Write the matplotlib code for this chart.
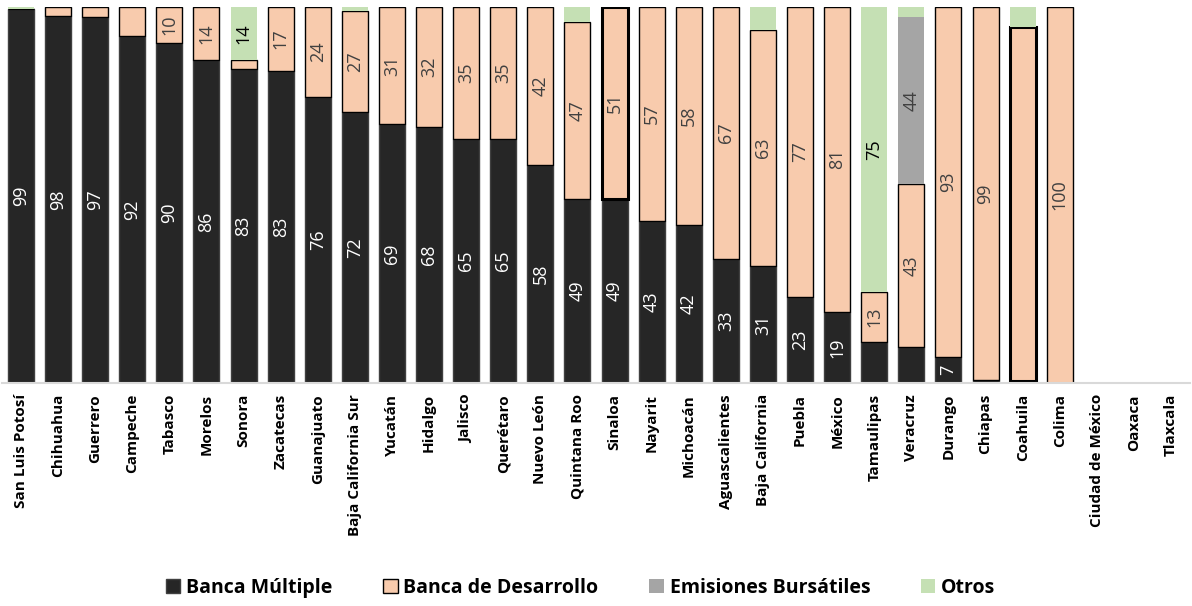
import numpy as np
import matplotlib.pyplot as plt

states = ["San Luis Potosí", "Chihuahua", "Guerrero", "Campeche", "Tabasco", "Morelos",
          "Sonora", "Zacatecas", "Guanajuato", "Baja California Sur", "Yucatán", "Hidalgo",
          "Jalisco", "Querétaro", "Nuevo León", "Quintana Roo", "Sinaloa", "Nayarit",
          "Michoacán", "Aguascalientes", "Baja California", "Puebla", "México", "Tamaulipas",
          "Veracruz", "Durango", "Chiapas", "Coahuila", "Colima", "Ciudad de México",
          "Oaxaca", "Tlaxcala"]

banca_multiple = [99.4, 97.6, 97.4, 92.3, 90.4, 85.9, 83.5, 83, 76, 72, 69, 68,
                  65, 65, 58, 49, 49, 43, 42, 33, 31, 23, 19, 10.9,
                  9.5, 7, 0.8, 0.4, 0, 0, 0, 0]
banca_desarrollo = [0, 2.4, 2.6, 7.7, 9.6, 14.1, 2.4, 17, 24, 27, 31, 32,
                    35, 35, 42, 47, 51, 57, 58, 67, 63, 77, 81, 13.3,
                    43.3, 93, 99.2, 94.3, 100, 0, 0, 0]
emisiones = [0] * 24 + [44.5] + [0] * 7
otros = [0.6, 0, 0, 0, 0, 0, 14.1, 0, 0, 1, 0, 0,
         0, 0, 0, 4, 0, 0, 0, 0, 6, 0, 0, 75.8,
         2.7, 0, 0, 5.3, 0, 0, 0, 0]

# which segments carry a value label (None = no label)
lbl_bm = [99, 98, 97, 92, 90, 86, 83, 83, 76, 72, 69, 68, 65, 65, 58, 49, 49, 43,
          42, 33, 31, 23, 19, None, None, 7, None, None, None, None, None, None]
lbl_bd = [None, None, None, None, 10, 14, None, 17, 24, 27, 31, 32, 35, 35, 42, 47, 51, 57,
          58, 67, 63, 77, 81, 13, 43, 93, 99, None, 100, None, None, None]
lbl_eb = [None] * 24 + [44] + [None] * 7
lbl_ot = [None] * 6 + [14] + [None] * 16 + [75] + [None] * 8

c_bm = "#262626"
c_bd = "#F8CBAD"
c_eb = "#A5A5A5"
c_ot = "#C5E0B4"

fig = plt.figure(figsize=(11.92, 6.06), dpi=100)
ax = fig.add_axes([0.002, 0.368, 0.996, 0.6205])

x = np.arange(len(states))
w = 0.7
bm = np.array(banca_multiple)
bd = np.array(banca_desarrollo)
eb = np.array(emisiones)
ot = np.array(otros)

# Sinaloa and Coahuila are outlined heavier
lw = [2.2 if s in ("Sinaloa", "Coahuila") else 1.0 for s in states]

ax.bar(x, bm, w, color=c_bm, edgecolor="#404040", linewidth=1.0, label="Banca Múltiple")
ax.bar(x, bd, w, bottom=bm, color=c_bd, edgecolor="black", linewidth=lw,
       label="Banca de Desarrollo")
ax.bar(x, eb, w, bottom=bm + bd, color=c_eb, linewidth=0, label="Emisiones Bursátiles")
ax.bar(x, ot, w, bottom=bm + bd + eb, color=c_ot, linewidth=0, label="Otros")


def put_labels(vals, bottoms, heights, color):
    for i, v in enumerate(vals):
        if v is None:
            continue
        ax.text(x[i], bottoms[i] + heights[i] / 2, str(v), rotation=90, ha="center",
                va="center", color=color, fontsize=13, family="Open Sans")


put_labels(lbl_bm, np.zeros(len(x)), bm, "white")
put_labels(lbl_bd, bm, bd, "#404040")
put_labels(lbl_eb, bm + bd, eb, "#404040")
put_labels(lbl_ot, bm + bd + eb, ot, "black")

ax.set_xlim(-0.5, len(states) - 0.5)
ax.set_ylim(0, 100)
ax.set_yticks([])
ax.set_xticks(x)
ax.set_xticklabels(states, rotation=90, fontsize=11, fontweight="bold", family="Open Sans")
ax.tick_params(axis="x", length=0, pad=8)
for s in ["top", "right", "left"]:
    ax.spines[s].set_visible(False)
ax.spines["bottom"].set_color("#D9D9D9")
ax.spines["bottom"].set_linewidth(1.5)

handles, labels = ax.get_legend_handles_labels()
fig.legend(handles, labels, loc="center", bbox_to_anchor=(0.487, 0.03), ncol=4,
           frameon=False, handlelength=0.75, handleheight=0.75, columnspacing=2.6,
           handletextpad=0.3, prop={"family": "Open Sans", "weight": "bold", "size": 14})

fig.savefig("out.png", dpi=100)
